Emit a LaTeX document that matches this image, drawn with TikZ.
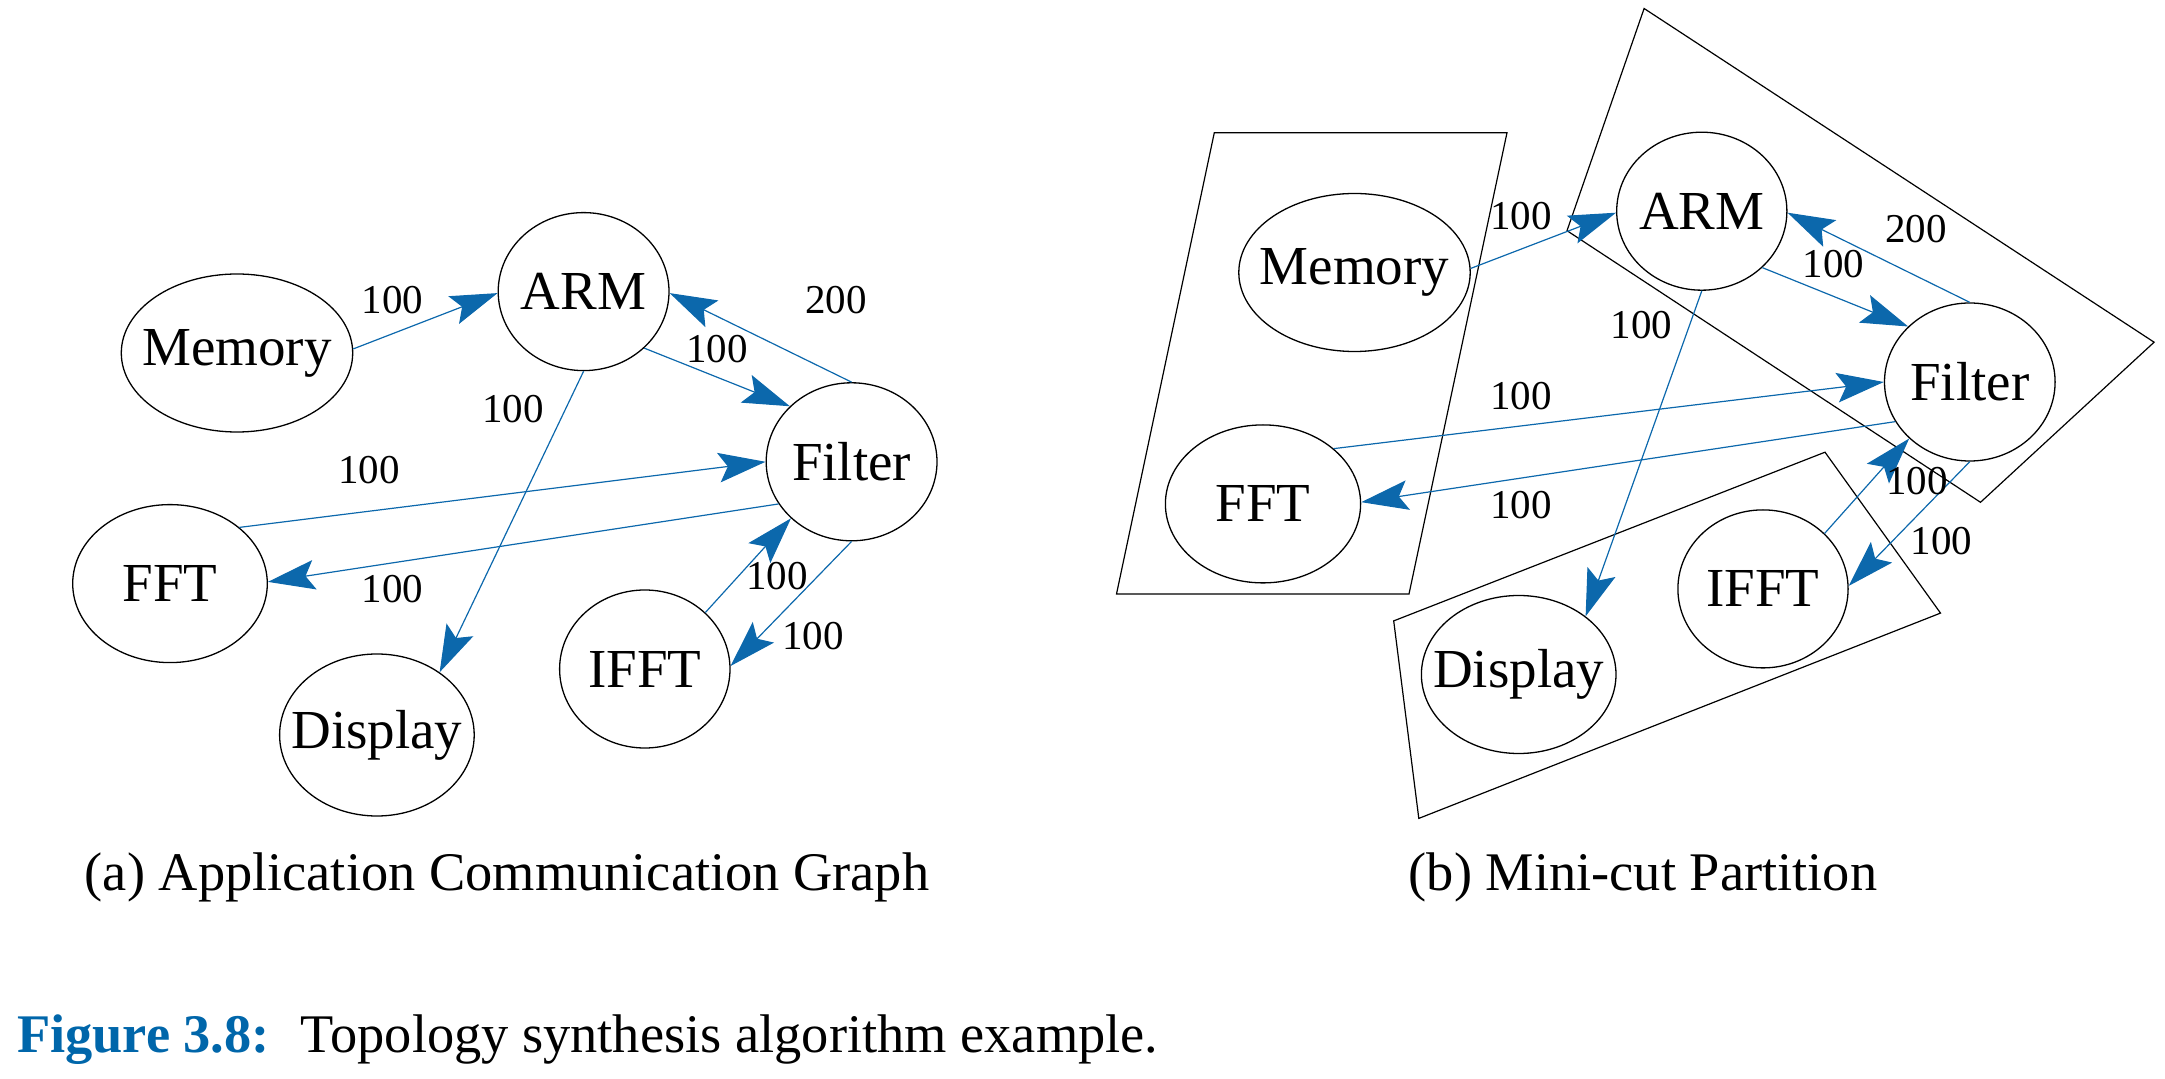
\documentclass[tikz,border=0pt]{standalone}
\usepackage{fontspec}
\setmainfont{Liberation Serif}
\usetikzlibrary{shapes.geometric,arrows.meta}
\definecolor{linkblue}{RGB}{12,104,172}
\definecolor{capblue}{RGB}{0,102,170}
\begin{document}
\begin{tikzpicture}[x=0.5pt,y=-0.5pt,
  task/.style={draw=black,line width=0.65pt,ellipse,inner xsep=-25pt,inner ysep=0pt,
    minimum height=79pt,font=\fontsize{27.5}{30}\selectfont},
  link/.style={draw=linkblue,line width=0.6pt,
    -{Stealth[length=23.5pt,width=14.8pt,inset=4.5pt]}},
  wt/.style={font=\fontsize{20.5}{22}\selectfont,inner sep=0pt},
  part/.style={draw=black,line width=0.6pt,line join=miter},
  captext/.style={font=\fontsize{27.2}{30}\selectfont,inner sep=0pt,anchor=base}]
\useasboundingbox (0,0) rectangle (2165,1079);

% ---------------- (a) ----------------
\node[task,minimum width=115.7pt] (memA)  at (237,353)     {Memory};
\node[task,minimum width=85.4pt]  (armA)  at (583.6,291.6) {ARM};
\node[task,minimum width=85.4pt]  (filA)  at (851.6,461.8) {Filter};
\node[task,minimum width=97.3pt]  (fftA)  at (170,583.6)   {FFT};
\node[task,minimum width=85.2pt]  (ifftA) at (644.8,669)   {IFFT};
\node[task,minimum width=97.3pt,minimum height=81pt] (dispA) at (376.9,735) {Display};

\draw[link] (memA.2)   -- (armA.181);
\draw[link] (armA.-43) -- (filA.138);
\draw[link] (filA.90)  -- (armA.-1.5);
\draw[link] (armA.270) -- (dispA.45);
\draw[link] (fftA.39)  -- (filA.180);
\draw[link] (filA.210) -- (fftA.1);
\draw[link] (ifftA.43) -- (filA.223);
\draw[link] (filA.270) -- (ifftA.2.5);

\node[wt] (la1) at (392.5,300) {100};
\node[wt] (la2) at (716.8,349) {100};
\node[wt] (la3) at (836,300.5) {200};
\node[wt] (la4) at (513,409)   {100};
\node[wt] (la5) at (369,470)   {100};
\node[wt] (la6) at (392.5,589) {100};
\node[wt] (la7) at (777,576)   {100};
\node[wt] (la8) at (813,636.5) {100};

\node[captext] (capA) at (507,890.7) {(a) Application Communication Graph};

% ---------------- (b) ----------------
\draw[part] (1214.3,132.7) -- (1507,132.7) -- (1409,594) -- (1116.5,594) -- cycle;
\draw[part] (1644.1,8.5) -- (2154.1,342.2) -- (1980.5,502.3) -- (1567,230.7) -- cycle;
\draw[part] (1393.7,620.9) -- (1825,452.2) -- (1940.5,613.1) -- (1418.8,818.4) -- cycle;

\node[task,minimum width=115.7pt] (memB)  at (1354.5,272.5) {Memory};
\node[task,minimum width=85.1pt]  (armB)  at (1701.8,211.2) {ARM};
\node[task,minimum width=85.3pt]  (filB)  at (1969.8,382)   {Filter};
\node[task,minimum width=97.6pt]  (fftB)  at (1263,503.9)   {FFT};
\node[task,minimum width=85.1pt]  (ifftB) at (1763,588.9)   {IFFT};
\node[task,minimum width=97.3pt]  (dispB) at (1518.7,674.5) {Display};

\draw[link] (memB.2.4)  -- (armB.181);
\draw[link] (armB.-43)  -- (filB.138);
\draw[link] (filB.90)   -- (armB.-1.8);
\draw[link] (armB.270)  -- (dispB.41);
\draw[link] (fftB.38.7) -- (filB.180);
\draw[link] (filB.208)  -- (fftB.1);
\draw[link] (ifftB.42.8)-- (filB.223.5);
\draw[link] (filB.270)  -- (ifftB.2);

\node[wt] (lb1) at (1521,216)      {100};
\node[wt] (lb2) at (1833.3,264.3)  {100};
\node[wt] (lb3) at (1916,228.6)    {200};
\node[wt] (lb4) at (1641.6,325)    {100};
\node[wt] (lb5) at (1521,396.5)    {100};
\node[wt] (lb6) at (1521,505)      {100};
\node[wt] (lb7) at (1917,481)      {100};
\node[wt] (lb8) at (1941.3,541)    {100};

\node[captext] (capB) at (1643,890.7) {(b) Mini-cut Partition};

% ---------------- figure caption ----------------
\node[captext,anchor=base west] (figcap) at (16.7,1052)
  {\textcolor{capblue}{\bfseries Figure 3.8:}\hspace{15.5pt}Topology synthesis algorithm example.};
\end{tikzpicture}
\end{document}
